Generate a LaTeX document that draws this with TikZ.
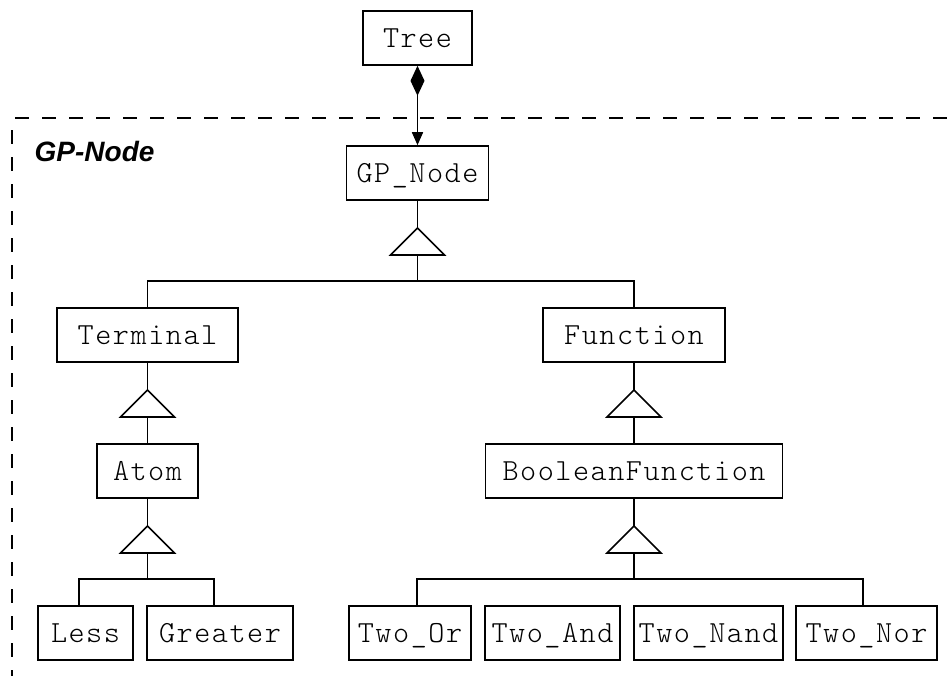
\documentclass[tikz,border=0pt]{standalone}
\usepackage{fontspec}
\newfontfamily\framefont{Liberation Sans}
\newfontfamily\clsfont{lmmonolt10-regular.otf}[LetterSpace=5]
\usetikzlibrary{arrows.meta,calc}

\begin{document}
\begin{tikzpicture}[x=0.75pt,y=-0.75pt,
  cls/.style={draw,line width=1.2pt,inner sep=0pt,minimum height=40.5pt,
    text height=14pt,text depth=0pt,
    font=\clsfont\fontsize{23pt}{26pt}\selectfont},
  link/.style={line width=1.2pt},
  gentri/.style={line width=1.2pt,fill=white,line join=miter},
  comp/.style={line width=1.2pt,
    {Diamond[length=22.5pt,width=10.5pt]}-{Triangle[length=9.75pt,width=8.25pt]}},
  pkg/.style={line width=1.2pt,dash pattern=on 10.5pt off 9.75pt},
  gen/.pic={\draw[gentri] (0,0) -- (-27,27) -- (27,27) -- cycle;}
]
\useasboundingbox (0,0) rectangle (948,675);
\fill[white] (0,0) rectangle (948,675);

% package frame
\draw[pkg,dash phase=11.25pt] (12,118) -- (12,700);
\draw[pkg,dash phase=18pt] (12,118) -- (970,118);
\node[anchor=base west,font=\framefont\bfseries\itshape\fontsize{21pt}{24pt}\selectfont]
  (pkgname) at (30,161) {GP-Node};

% classes
\node[cls,minimum width=81.75pt]  (Tree)     at (417.5,38)  {Tree};
\node[cls,minimum width=106.5pt]  (GPNode)   at (417.5,173) {GP\_Node};
\node[cls,minimum width=135.75pt] (Terminal) at (147.5,335) {Terminal};
\node[cls,minimum width=136.5pt]  (Function) at (634,335)   {Function};
\node[cls,minimum width=75.75pt]  (Atom)     at (147.5,471) {Atom};
\node[cls,minimum width=222.75pt] (BoolFn)   at (634,471)   {BooleanFunction};
\node[cls,minimum width=71.25pt]  (Less)     at (85.5,633)  {Less};
\node[cls,minimum width=109.5pt]  (Greater)  at (220,633)   {Greater};
\node[cls,minimum width=91.5pt]   (TwoOr)    at (410,633)   {Two\_Or};
\node[cls,minimum width=101.25pt] (TwoAnd)   at (552.5,633) {Two\_And};
\node[cls,minimum width=111.75pt] (TwoNand)  at (708.5,633) {Two\_Nand};
\node[cls,minimum width=105.75pt] (TwoNor)   at (866.5,633) {Two\_Nor};

% composition Tree -> GP_Node
\draw[comp] (Tree.south) -- (GPNode.north);

% generalization apexes, triangle bases and buses
\coordinate (g1) at (417.5,228); \coordinate (g1b) at (417.5,255); \coordinate (bus1) at (417.5,281);
\coordinate (g2) at (147.5,390); \coordinate (g2b) at (147.5,417);
\coordinate (g3) at (634,390);   \coordinate (g3b) at (634,417);
\coordinate (g4) at (147.5,526); \coordinate (g4b) at (147.5,552); \coordinate (bus2) at (147.5,579);
\coordinate (g5) at (634,526);   \coordinate (g5b) at (634,552);   \coordinate (bus3) at (634,579);

% GP_Node <- Terminal, Function
\draw[link] (GPNode.south) -- (g1);
\draw[link] (g1b) -- (bus1);
\draw[link] (Terminal.north) |- (bus1) -| (Function.north);
\pic at (g1) {gen};

% Terminal <- Atom
\draw[link] (Terminal.south) -- (g2);
\draw[link] (g2b) -- (Atom.north);
\pic at (g2) {gen};

% Function <- BooleanFunction
\draw[link] (Function.south) -- (g3);
\draw[link] (g3b) -- (BoolFn.north);
\pic at (g3) {gen};

% Atom <- Less, Greater
\draw[link] (Atom.south) -- (g4);
\draw[link] (g4b) -- (bus2);
\draw[link] ($(Less.north)+(-6.5,0)$) |- (bus2) -| ($(Greater.north)+(-6,0)$);
\pic at (g4) {gen};

% BooleanFunction <- Two_Or, Two_And, Two_Nand, Two_Nor
\draw[link] (BoolFn.south) -- (g5);
\draw[link] (g5b) -- (bus3);
\draw[link] ($(TwoOr.north)+(7,0)$) |- (bus3) -| ($(TwoNor.north)+(-3.5,0)$);
\draw[link] ($(TwoAnd.north)+(-13.5,0)$) -- ($(TwoAnd.north)+(-13.5,0)$ |- bus3);
\draw[link] ($(TwoNand.north)+(6.5,0)$) -- ($(TwoNand.north)+(6.5,0)$ |- bus3);
\pic at (g5) {gen};
\end{tikzpicture}
\end{document}
